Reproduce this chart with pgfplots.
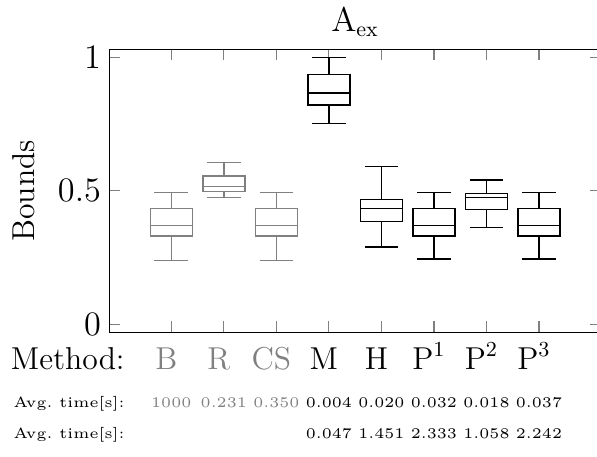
\documentclass[border=0pt]{standalone}
\usepackage{graphicx}
\usepackage{pgfplots}
\pgfplotsset{compat=1.18}
\usepgfplotslibrary{statistics}
\definecolor{lg}{RGB}{128,128,128}
\newcommand{\bigf}{\fontsize{13.3}{16}\selectfont}
\newcommand{\sm}[1]{\scalebox{1.24}{\fontsize{5}{6}\selectfont #1}}
\newcommand{\lab}[4]{\makebox[0pt]{\color{#1}#2\hspace{4.2pt}}\makebox[0pt]{\raisebox{-15.96pt}[0pt][0pt]{\sm{\color{#1}#3}}}\makebox[0pt]{\raisebox{-28.98pt}[0pt][0pt]{\sm{\color{#1}#4}}}}
\begin{document}
\begin{tikzpicture}
\begin{axis}[name=ax, at={(0,0)}, anchor=south west, scale only axis,
  width=206.5pt, height=118.86pt,
  xmin=-0.18, xmax=9.18, ymin=-0.03, ymax=1.03,
  xtick={1,2,3,4,5,6,7,8}, ytick={0,0.5,1},
  xticklabels={{\lab{lg}{B}{1000}{}},{\lab{lg}{R}{0.231}{}},{\lab{lg}{CS}{0.350}{}},
    {\lab{black}{M}{0.004}{0.047}},{\lab{black}{H}{0.020}{1.451}},
    {\lab{black}{P$^1$}{0.032}{2.333}},{\lab{black}{P$^2$}{0.018}{1.058}},
    {\lab{black}{P$^3$}{0.037}{2.242}}},
  axis line style={line width=0.6pt},
  tick style={lg, line width=0.5pt}, major tick length=4.62pt,
  xticklabel style={anchor=base, yshift=-15.54pt, font=\bigf},
  yticklabel style={font=\bigf},
  title={$\mathrm{A}_{\mathrm{ex}}$},
  title style={at={(rel axis cs:0.5,1)}, anchor=base, yshift=1.4pt, font=\bigf},
  ylabel={Bounds},
  ylabel style={at={(rel axis cs:-0.1511,0.5)}, anchor=base, font=\bigf},
  clip=false,
  boxplot/draw direction=y,
]
\addplot[draw=lg, line width=0.6pt, boxplot prepared={draw position=1, lower whisker=0.239, lower quartile=0.330, median=0.370, upper quartile=0.433, upper whisker=0.494}] coordinates {};
\addplot[draw=lg, line width=0.6pt, boxplot prepared={draw position=2, lower whisker=0.475, lower quartile=0.497, median=0.515, upper quartile=0.556, upper whisker=0.605}] coordinates {};
\addplot[draw=lg, line width=0.6pt, boxplot prepared={draw position=3, lower whisker=0.239, lower quartile=0.330, median=0.370, upper quartile=0.433, upper whisker=0.494}] coordinates {};
\addplot[draw=black, line width=0.6pt, boxplot prepared={draw position=4, lower whisker=0.751, lower quartile=0.822, median=0.866, upper quartile=0.936, upper whisker=1.0}] coordinates {};
\addplot[draw=black, line width=0.6pt, boxplot prepared={draw position=5, lower whisker=0.289, lower quartile=0.385, median=0.434, upper quartile=0.468, upper whisker=0.590}] coordinates {};
\addplot[draw=black, line width=0.6pt, boxplot prepared={draw position=6, lower whisker=0.244, lower quartile=0.330, median=0.370, upper quartile=0.433, upper whisker=0.494}] coordinates {};
\addplot[draw=black, line width=0.6pt, boxplot prepared={draw position=7, lower whisker=0.363, lower quartile=0.430, median=0.475, upper quartile=0.489, upper whisker=0.541}] coordinates {};
\addplot[draw=black, line width=0.6pt, boxplot prepared={draw position=8, lower whisker=0.244, lower quartile=0.330, median=0.370, upper quartile=0.433, upper whisker=0.494}] coordinates {};
\node[anchor=base, font=\bigf, yshift=-15.54pt, inner sep=0pt] at (axis cs:0.1115,-0.03)
  {\makebox[0pt][r]{Method:}\makebox[0pt][r]{\raisebox{-15.96pt}[0pt][0pt]{\sm{Avg.\ time[s]:}}}\makebox[0pt][r]{\raisebox{-28.98pt}[0pt][0pt]{\sm{Avg.\ time[s]:}}}};
\end{axis}
\pgfresetboundingbox
\path[use as bounding box] (-45.9pt,-52.37pt) rectangle (204.83pt,139.56pt);
\end{tikzpicture}
\end{document}
